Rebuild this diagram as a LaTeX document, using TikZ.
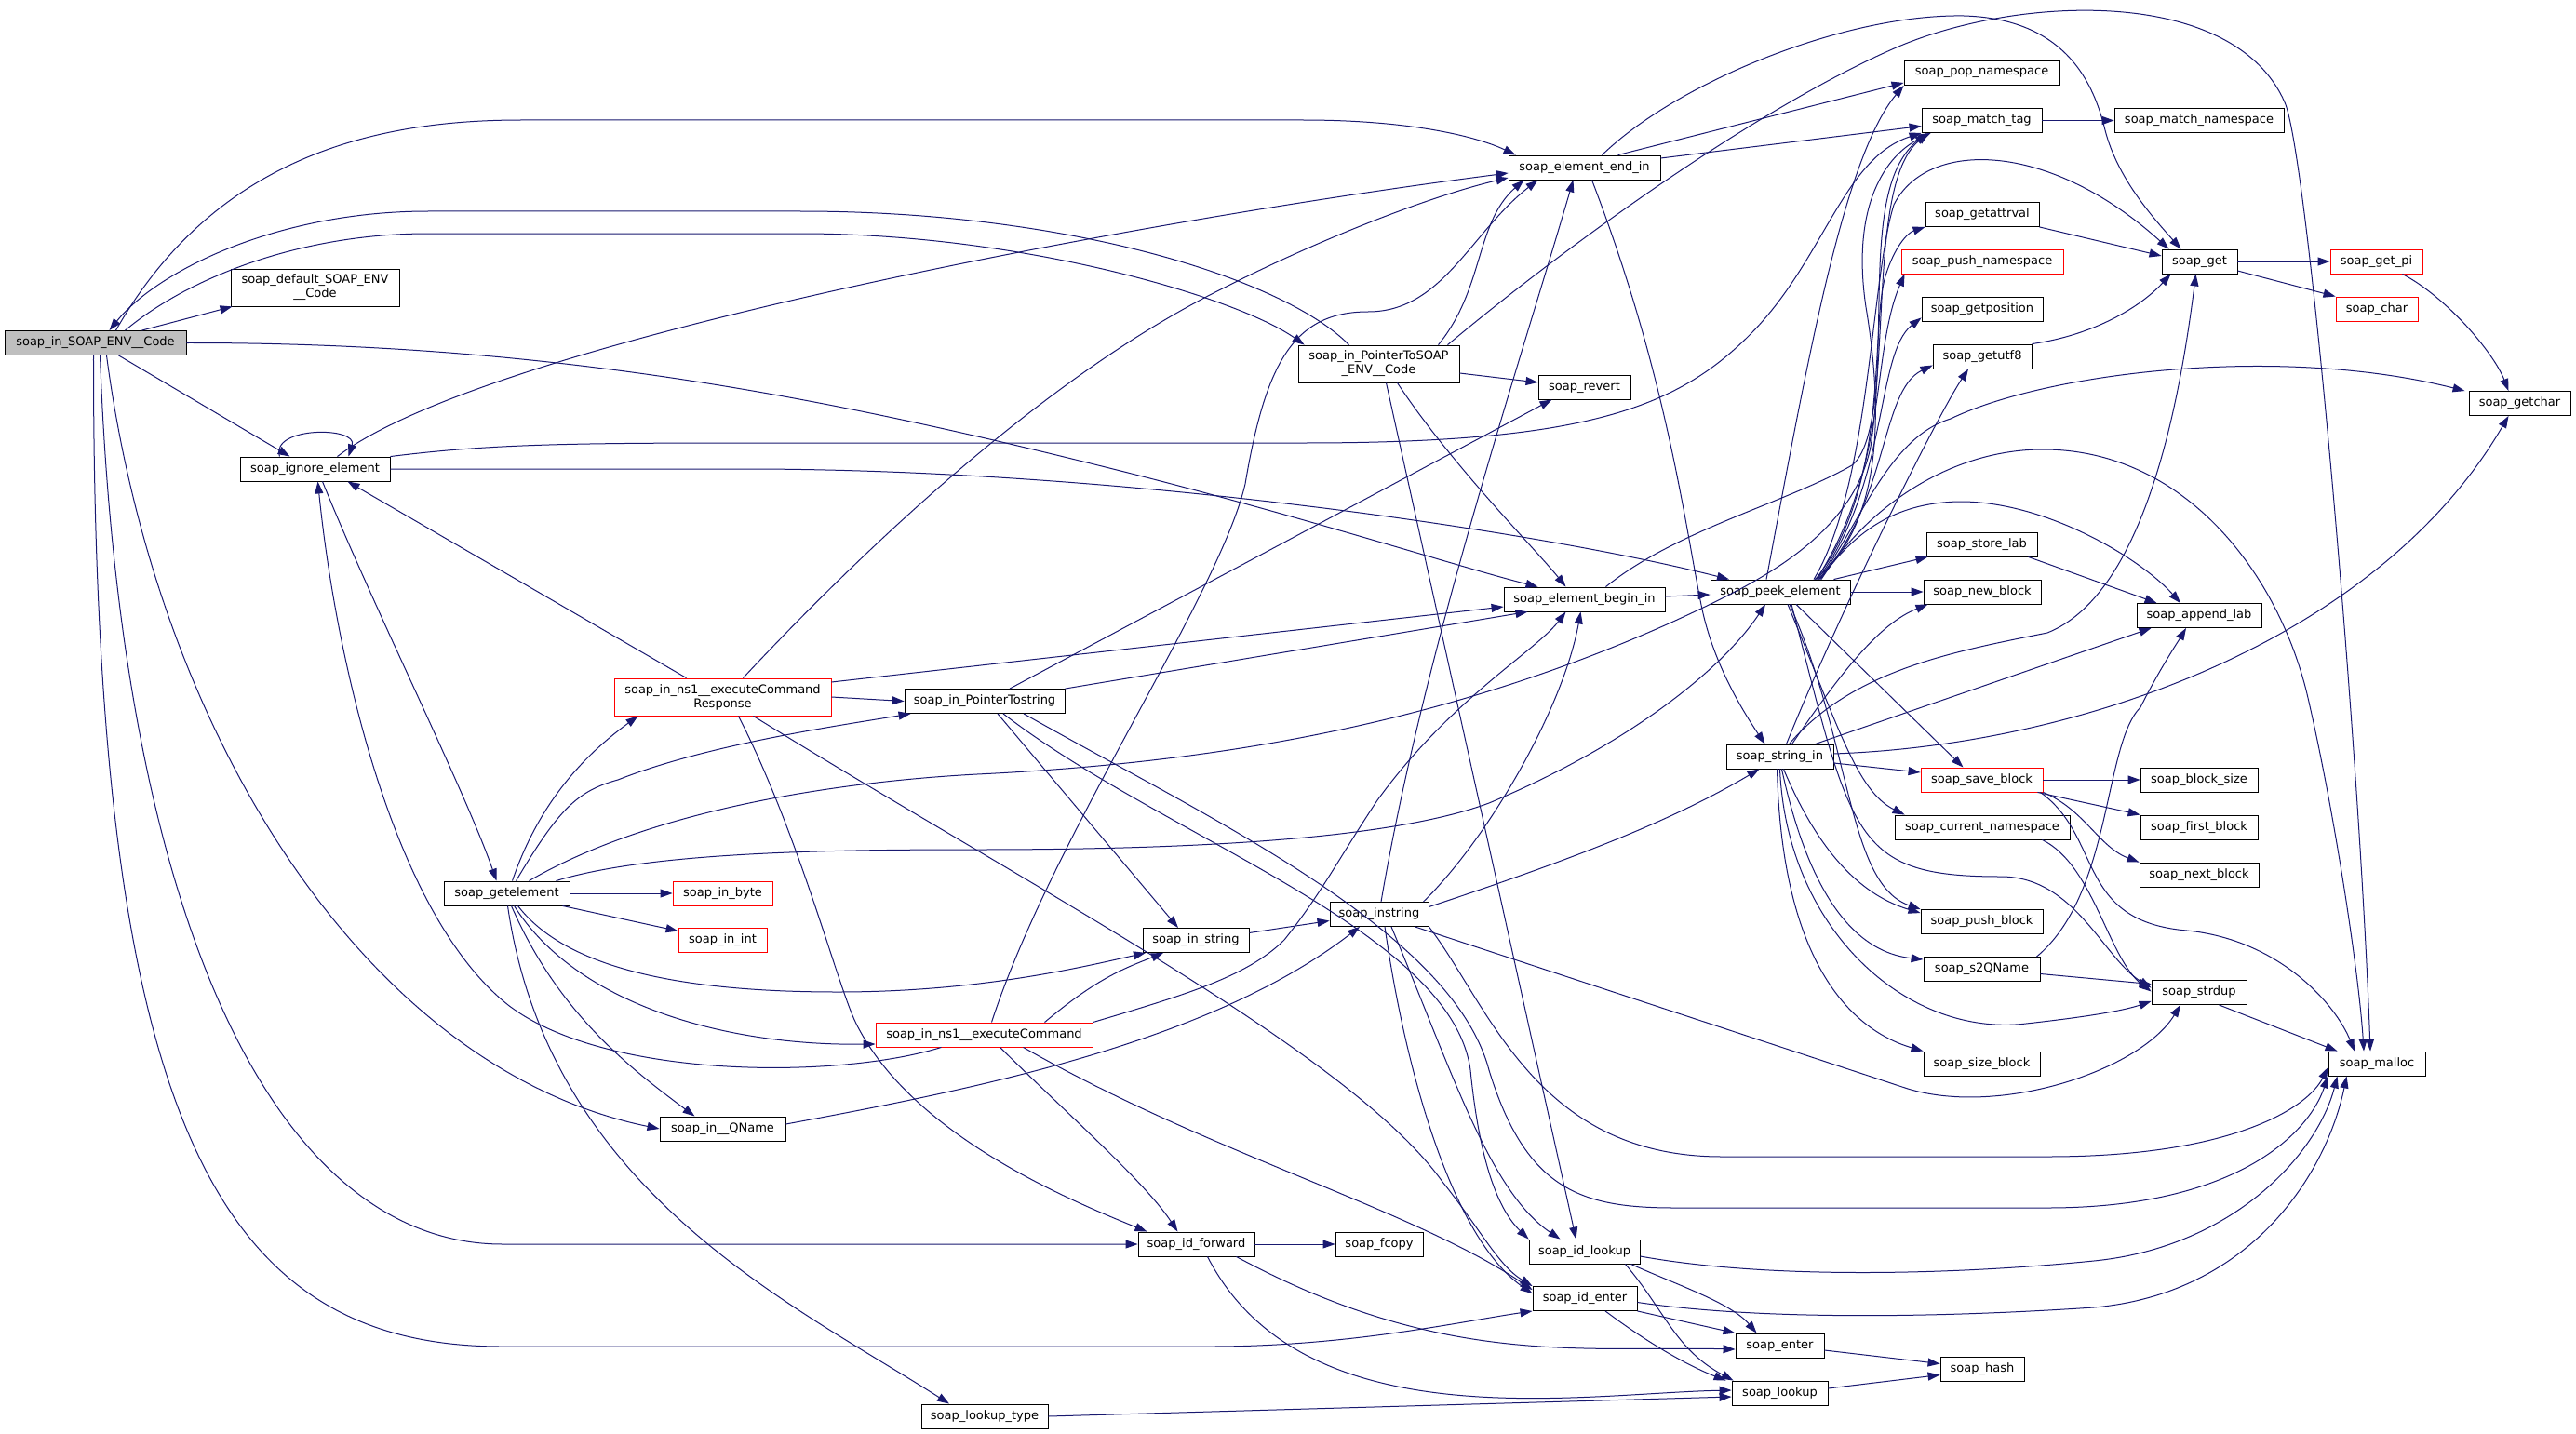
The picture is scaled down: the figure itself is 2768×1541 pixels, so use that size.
\documentclass[tikz,border=0pt]{standalone}
\usepackage{fontspec}
\setmainfont{DejaVu Sans}
\usetikzlibrary{arrows.meta}
\definecolor{EdgeBlue}{RGB}{25,25,112}
\definecolor{RootGrey}{RGB}{191,191,191}
\tikzset{
  fn/.style={draw=black,fill=white,line width=0.9pt,inner sep=0pt,
    minimum height=26pt,align=center,font=\fontsize{13}{15}\selectfont},
  trunc/.style={fn,draw=red},
  rootfn/.style={fn,fill=RootGrey},
  callarrow/.style={-{Triangle[length=13pt,width=9pt]},EdgeBlue,line width=1pt}
}
\begin{document}
\begin{tikzpicture}[x=1pt,y=-1pt]
\fill[white] (0,0) rectangle (2768,1541);
\useasboundingbox (0,0) rectangle (2768,1541);

% functions
\node[rootfn,minimum width=195pt] (envcode) at (102.5,368.5) {soap\_in\_SOAP\_ENV\_\_Code};
\node[fn,minimum width=181pt,minimum height=40pt] (defcode) at (338.5,309) {soap\_default\_SOAP\_ENV\\\_\_Code};
\node[fn,minimum width=161pt] (ignore) at (338.5,504) {soap\_ignore\_element};
\node[fn,minimum width=163pt] (endin) at (1702.5,180) {soap\_element\_end\_in};
\node[fn,minimum width=173pt,minimum height=40pt] (ptrenv) at (1481.5,391) {soap\_in\_PointerToSOAP\\\_ENV\_\_Code};
\node[fn,minimum width=99pt] (revert) at (1702.5,416) {soap\_revert};
\node[fn,minimum width=167pt] (popns) at (2129.5,78.5) {soap\_pop\_namespace};
\node[fn,minimum width=129pt] (matchtag) at (2129.5,129.5) {soap\_match\_tag};
\node[fn,minimum width=182pt] (matchns) at (2363,129.5) {soap\_match\_namespace};
\node[fn,minimum width=122pt] (getattrval) at (2130,230.5) {soap\_getattrval};
\node[trunc,minimum width=174pt] (pushns) at (2130,281) {soap\_push\_namespace};
\node[fn,minimum width=130pt] (getpos) at (2130,332) {soap\_getposition};
\node[fn,minimum width=106pt] (getutf8) at (2130,383) {soap\_getutf8};
\node[fn,minimum width=81pt] (get) at (2363.5,281) {soap\_get};
\node[trunc,minimum width=99pt] (getpi) at (2553.5,281) {soap\_get\_pi};
\node[trunc,minimum width=88pt] (char) at (2554,332) {soap\_char};
\node[fn,minimum width=109pt] (getchar) at (2707.5,433.5) {soap\_getchar};
\node[fn,minimum width=173pt] (beginin) at (1702.5,644) {soap\_element\_begin\_in};
\node[fn,minimum width=150pt] (peek) at (1913,636) {soap\_peek\_element};
\node[fn,minimum width=119pt] (storelab) at (2129.5,585) {soap\_store\_lab};
\node[fn,minimum width=126pt] (newblock) at (2130,636) {soap\_new\_block};
\node[fn,minimum width=134pt] (appendlab) at (2363,661.5) {soap\_append\_lab};
\node[fn,minimum width=115pt] (stringin) at (1912.5,813) {soap\_string\_in};
\node[trunc,minimum width=131pt] (saveblock) at (2129.5,838) {soap\_save\_block};
\node[fn,minimum width=126pt] (blocksize) at (2363,838) {soap\_block\_size};
\node[fn,minimum width=188pt] (curns) at (2130,889) {soap\_current\_namespace};
\node[fn,minimum width=126pt] (firstblock) at (2363,889) {soap\_first\_block};
\node[fn,minimum width=128pt] (nextblock) at (2363,940) {soap\_next\_block};
\node[fn,minimum width=131pt] (pushblock) at (2129.5,990.5) {soap\_push\_block};
\node[fn,minimum width=125pt] (s2qname) at (2129.5,1041.5) {soap\_s2QName};
\node[fn,minimum width=102pt] (strdup) at (2363,1066.5) {soap\_strdup};
\node[fn,minimum width=125pt] (sizeblock) at (2129.5,1143) {soap\_size\_block};
\node[fn,minimum width=104pt] (malloc) at (2554,1143) {soap\_malloc};
\node[trunc,minimum width=233pt,minimum height=40pt] (execresp) at (776.5,749) {soap\_in\_ns1\_\_executeCommand\\Response};
\node[fn,minimum width=172pt] (ptrstr) at (1058,753.5) {soap\_in\_PointerTostring};
\node[fn,minimum width=135pt] (getelem) at (544.5,960) {soap\_getelement};
\node[trunc,minimum width=107pt] (inbyte) at (776.5,960) {soap\_in\_byte};
\node[trunc,minimum width=95pt] (inint) at (776.5,1010.5) {soap\_in\_int};
\node[fn,minimum width=114pt] (instr) at (1285,1010.5) {soap\_in\_string};
\node[fn,minimum width=106pt] (instring) at (1482,982.5) {soap\_instring};
\node[trunc,minimum width=233pt] (exec) at (1057.5,1112) {soap\_in\_ns1\_\_executeCommand};
\node[fn,minimum width=135pt] (qname) at (776.5,1213) {soap\_in\_\_QName};
\node[fn,minimum width=125pt] (idfwd) at (1285.5,1337) {soap\_id\_forward};
\node[fn,minimum width=94pt] (fcopy) at (1482,1337) {soap\_fcopy};
\node[fn,minimum width=119pt] (idlookup) at (1702.5,1345) {soap\_id\_lookup};
\node[fn,minimum width=112pt] (identer) at (1703,1395.5) {soap\_id\_enter};
\node[fn,minimum width=95pt] (enter) at (1912.5,1446) {soap\_enter};
\node[fn,minimum width=90pt] (hash) at (2130,1471.5) {soap\_hash};
\node[fn,minimum width=103pt] (lookup) at (1912.5,1497) {soap\_lookup};
\node[fn,minimum width=136pt] (lookuptype) at (1058,1522) {soap\_lookup\_type};

% soap_in_SOAP_ENV__Code
\draw[callarrow] ([xshift=50pt]envcode.north) -- ([xshift=2pt]defcode.south west);
\draw[callarrow] ([xshift=22pt]envcode.north) .. controls (230,170) and (400,129) .. (560,129) -- (1400,129) .. controls (1520,129) and (1590,148) .. ([xshift=8pt]endin.north west);
\draw[callarrow] ([xshift=32pt]envcode.north) .. controls (200,300) and (320,251) .. (460,251) -- (860,251) .. controls (1100,251) and (1330,320) .. ([xshift=7pt]ptrenv.north west);
\draw[callarrow] ([xshift=25pt]envcode.south) -- ([xshift=-27pt]ignore.north);
\draw[callarrow] (envcode.east) .. controls (600,368) and (900,430) .. (1200,505) .. controls (1400,555) and (1570,610) .. ([xshift=-50pt]beginin.north);
\draw[callarrow] ([xshift=12pt]envcode.south) .. controls (170,800) and (400,1150) .. (qname.west);
\draw[callarrow] ([xshift=5pt]envcode.south) .. controls (130,1000) and (300,1337) .. (540,1337) -- (idfwd.west);
\draw[callarrow] ([xshift=-2pt]envcode.south) .. controls (100,1200) and (230,1447) .. (540,1447) -- (1300,1447) .. controls (1450,1447) and (1570,1420) .. (identer.south west);

% soap_in_PointerToSOAP_ENV__Code
\draw[callarrow] ([xshift=-32pt]ptrenv.north) .. controls (1380,300) and (1150,227) .. (860,227) -- (460,227) .. controls (300,227) and (170,290) .. ([xshift=15pt]envcode.north);
\draw[callarrow] ([xshift=20pt]ptrenv.south) .. controls (1560,500) and (1650,590) .. ([xshift=-20pt]beginin.north);
\draw[callarrow] ([xshift=8pt]ptrenv.south) -- ([xshift=-9pt]idlookup.north);
\draw[callarrow] ([yshift=-10pt]ptrenv.east) -- ([yshift=5pt]revert.west);
\draw[callarrow] ([xshift=64pt]ptrenv.north) .. controls (1595,310) and (1585,240) .. ([xshift=-65pt]endin.south);
\draw[callarrow] ([xshift=74pt]ptrenv.north) .. controls (1700,250) and (1900,110) .. (2040,50) .. controls (2170,-5) and (2400,-15) .. (2455,110) .. controls (2480,167) and (2535,800) .. ([xshift=-7pt]malloc.north);

% soap_ignore_element
\draw[callarrow] ([xshift=-38pt]ignore.north) .. controls (290,458) and (385,458) .. ([xshift=36pt]ignore.north);
\draw[callarrow] ([xshift=24pt]ignore.north) .. controls (520,370) and (1200,240) .. ([yshift=-6pt]endin.west);
\draw[callarrow] (ignore.north east) .. controls (520,478) and (600,476) .. (800,476) -- (1400,476) .. controls (1700,476) and (1800,440) .. (1880,360) .. controls (1960,280) and (1980,170) .. (matchtag.south west);
\draw[callarrow] (ignore.east) -- (800,504) .. controls (1200,504) and (1650,570) .. ([xshift=-55pt]peek.north);
\draw[callarrow] ([xshift=8pt]ignore.south) .. controls (400,650) and (500,850) .. ([xshift=-11pt]getelem.north);

% soap_getelement
\draw[callarrow] (getelem.east) -- (inbyte.west);
\draw[callarrow] ([xshift=-8pt]getelem.south east) -- ([yshift=10pt]inint.west);
\draw[callarrow] ([xshift=6pt]getelem.north) .. controls (580,860) and (630,810) .. ([xshift=26pt]execresp.south west);
\draw[callarrow] ([xshift=10pt]getelem.north) .. controls (600,870) and (620,850) .. (664,838) .. controls (760,800) and (900,780) .. ([xshift=7pt]ptrstr.south west);
\draw[callarrow] ([xshift=24pt]getelem.north) .. controls (700,870) and (900,840) .. (1050,832) .. controls (1300,820) and (1550,780) .. (1800,667) .. controls (1880,630) and (1990,580) .. (2010,480) .. controls (2030,350) and (2000,200) .. ([xshift=6pt]matchtag.south west);
\draw[callarrow] ([xshift=53pt]getelem.north) .. controls (700,915) and (900,913) .. (1050,913) .. controls (1300,913) and (1500,900) .. (1600,863) .. controls (1750,800) and (1850,720) .. ([xshift=-16pt]peek.south);
\draw[callarrow] ([xshift=1pt]getelem.south) .. controls (590,1280) and (850,1400) .. ([xshift=-38pt]lookuptype.north);
\draw[callarrow] ([xshift=5pt]getelem.south) .. controls (600,1090) and (680,1150) .. ([xshift=-30pt]qname.north);
\draw[callarrow] ([xshift=12pt]getelem.south) .. controls (600,1030) and (700,1066) .. (900,1066) .. controls (1050,1066) and (1160,1040) .. ([xshift=-54pt]instr.south);
\draw[callarrow] ([xshift=8pt]getelem.south) .. controls (620,1080) and (780,1124) .. ([yshift=-10pt]exec.west);

% soap_in_ns1__executeCommandResponse
\draw[callarrow] ([xshift=78pt]execresp.north west) -- ([xshift=35pt]ignore.south);
\draw[callarrow] ([xshift=22pt]execresp.north) .. controls (900,620) and (1100,420) .. (1300,317) .. controls (1420,255) and (1540,210) .. ([yshift=-11pt]endin.west);
\draw[callarrow] ([yshift=16pt]execresp.east) -- ([yshift=-8pt]beginin.west);
\draw[callarrow] (execresp.east) -- (ptrstr.west);
\draw[callarrow] ([xshift=17pt]execresp.south) .. controls (860,900) and (900,1060) .. (920,1100) .. controls (980,1220) and (1150,1290) .. ([xshift=-53pt]idfwd.north);
\draw[callarrow] ([xshift=33pt]execresp.south) .. controls (1100,950) and (1450,1130) .. (1550,1270) .. controls (1590,1320) and (1610,1360) .. (identer.north west);

% soap_in_PointerTostring
\draw[callarrow] ([xshift=27pt]ptrstr.north) -- ([xshift=-35pt]revert.south);
\draw[callarrow] (ptrstr.north east) -- ([xshift=-61pt]beginin.south);
\draw[callarrow] ([xshift=14pt]ptrstr.south) -- ([xshift=-19pt]instr.north);
\draw[callarrow] ([xshift=20pt]ptrstr.south) .. controls (1250,900) and (1560,1000) .. (1580,1150) .. controls (1590,1250) and (1610,1300) .. (idlookup.north west);
\draw[callarrow] ([xshift=42pt]ptrstr.south) .. controls (1300,880) and (1560,1000) .. (1600,1150) .. controls (1640,1280) and (1700,1298) .. (1800,1298) -- (2200,1298) .. controls (2400,1298) and (2480,1220) .. (malloc.south west);

% soap_in_ns1__executeCommand
\draw[callarrow] ([xshift=-46pt]exec.south) .. controls (900,1160) and (650,1160) .. (546,1080) .. controls (420,980) and (360,700) .. ([xshift=3pt]ignore.south);
\draw[callarrow] ([xshift=8pt]exec.north) .. controls (1130,900) and (1310,640) .. (1338,520) .. controls (1360,390) and (1390,335) .. (1470,335) .. controls (1550,335) and (1580,250) .. ([xshift=-50pt]endin.south);
\draw[callarrow] ([xshift=65pt]exec.north) .. controls (1180,1050) and (1210,1040) .. ([xshift=-35pt]instr.south);
\draw[callarrow] (exec.north east) .. controls (1270,1070) and (1340,1050) .. (1380,1010) .. controls (1420,960) and (1440,920) .. (1480,860) .. controls (1560,750) and (1650,700) .. ([xshift=-20pt]beginin.south);
\draw[callarrow] ([xshift=17pt]exec.south) .. controls (1150,1200) and (1230,1270) .. ([xshift=-20pt]idfwd.north);
\draw[callarrow] ([xshift=42pt]exec.south) .. controls (1300,1240) and (1520,1300) .. ([yshift=-4pt]identer.north west);

% soap_in_string, soap_in__QName
\draw[callarrow] ([yshift=8pt]instr.east) -- ([yshift=-7pt]instring.west);
\draw[callarrow] ([yshift=5pt]qname.east) .. controls (1050,1170) and (1300,1120) .. ([xshift=-21pt]instring.south);

% soap_instring
\draw[callarrow] ([xshift=2pt]instring.north) .. controls (1530,700) and (1630,400) .. ([xshift=-12pt]endin.south);
\draw[callarrow] ([xshift=-6pt]instring.north east) .. controls (1600,900) and (1680,760) .. ([xshift=-4pt]beginin.south);
\draw[callarrow] ([yshift=8pt]instring.east) .. controls (1700,920) and (1800,880) .. ([xshift=-22pt]stringin.south);
\draw[callarrow] ([xshift=13pt]instring.south) .. controls (1560,1150) and (1600,1280) .. ([xshift=-26pt]idlookup.north);
\draw[callarrow] ([xshift=6pt]instring.south) .. controls (1510,1150) and (1560,1330) .. ([yshift=-8pt]identer.north west);
\draw[callarrow] ([xshift=-15pt]instring.south east) -- (2050,1170) .. controls (2150,1200) and (2300,1150) .. ([xshift=-20pt]strdup.south);
\draw[callarrow] (instring.south east) .. controls (1600,1080) and (1650,1243) .. (1850,1243) -- (2200,1243) .. controls (2400,1243) and (2480,1190) .. ([yshift=-4pt]malloc.west);

% soap_element_end_in
\draw[callarrow] ([xshift=19pt]endin.north) .. controls (1800,90) and (1980,15) .. (2110,17) .. controls (2220,20) and (2250,90) .. (2262,140) .. controls (2275,190) and (2310,230) .. ([xshift=-20pt]get.north);
\draw[callarrow] ([xshift=36pt]endin.north) -- ([yshift=3pt]popns.south west);
\draw[callarrow] ([yshift=10pt]endin.east) -- ([yshift=-6pt]matchtag.west);
\draw[callarrow] ([xshift=8pt]endin.south) .. controls (1790,400) and (1810,560) .. (1828,650) .. controls (1840,710) and (1870,760) .. ([xshift=-16pt]stringin.north);

% soap_element_begin_in
\draw[callarrow] ([yshift=3pt]beginin.east) -- ([yshift=-3pt]peek.west);
\draw[callarrow] ([xshift=23pt]beginin.north) .. controls (1800,570) and (1920,540) .. (1990,500) .. controls (2040,460) and (2000,200) .. ([xshift=8pt]matchtag.south west);

% soap_peek_element
\draw[callarrow] ([xshift=37pt]peek.north) .. controls (2030,560) and (2020,420) .. (2005,330) .. controls (1990,230) and (2020,170) .. ([xshift=10pt]matchtag.south west);
\draw[callarrow] ([xshift=-15pt]peek.north) .. controls (1940,400) and (1980,170) .. (popns.south west);
\draw[callarrow] ([xshift=38pt]peek.north) .. controls (2030,520) and (2010,360) .. (2025,300) .. controls (2035,265) and (2050,250) .. (getattrval.south west);
\draw[callarrow] ([xshift=39pt]peek.north) .. controls (2030,500) and (2010,380) .. ([xshift=4pt]pushns.south west);
\draw[callarrow] ([xshift=40pt]peek.north) .. controls (2030,520) and (2015,380) .. ([yshift=4pt]getpos.south west);
\draw[callarrow] ([xshift=41pt]peek.north) .. controls (2030,540) and (2020,420) .. ([yshift=4pt]getutf8.south west);
\draw[callarrow] ([xshift=36pt]peek.north) .. controls (2010,520) and (2010,300) .. (2035,220) .. controls (2070,150) and (2200,150) .. ([xshift=8pt]get.north west);
\draw[callarrow] ([xshift=42pt]peek.north) .. controls (2000,560) and (2030,470) .. (2096,450) .. controls (2200,400) and (2450,370) .. ([xshift=-4pt]getchar.north west);
\draw[callarrow] ([xshift=43pt]peek.north) .. controls (2000,560) and (2050,539) .. (2109,539) .. controls (2200,540) and (2300,600) .. ([xshift=-20pt]appendlab.north);
\draw[callarrow] ([xshift=44pt]peek.north) .. controls (2010,540) and (2100,483) .. (2195,483) .. controls (2350,483) and (2450,620) .. (2480,750) .. controls (2510,880) and (2535,1050) .. ([xshift=-14pt]malloc.north);
\draw[callarrow] ([xshift=-18pt]peek.north east) -- ([xshift=2pt]storelab.south west);
\draw[callarrow] (peek.east) -- (newblock.west);
\draw[callarrow] ([xshift=17pt]peek.south) -- ([xshift=-20pt]saveblock.north);
\draw[callarrow] ([xshift=8pt]peek.south) .. controls (1975,780) and (1995,850) .. ([xshift=11pt]curns.north west);
\draw[callarrow] ([xshift=10pt]peek.south) .. controls (1990,800) and (1985,950) .. (pushblock.north west);
\draw[callarrow] ([xshift=12pt]peek.south) .. controls (1990,900) and (1990,942) .. (2150,942) .. controls (2230,942) and (2260,1030) .. ([yshift=5pt]strdup.west);

% soap_string_in
\draw[callarrow] ([xshift=7pt]stringin.north) .. controls (1980,650) and (2080,450) .. ([xshift=-15pt]getutf8.south);
\draw[callarrow] ([xshift=10pt]stringin.north) .. controls (1990,720) and (2100,700) .. (2200,680) .. controls (2300,640) and (2340,450) .. ([xshift=-4pt]get.south);
\draw[callarrow] ([xshift=13pt]stringin.north) .. controls (1980,720) and (2020,670) .. ([xshift=5pt]newblock.south west);
\draw[callarrow] ([xshift=-20pt]stringin.north east) -- ([xshift=16pt]appendlab.south west);
\draw[callarrow] ([yshift=3pt]stringin.east) .. controls (2250,800) and (2560,680) .. ([xshift=-12pt]getchar.south);
\draw[callarrow] ([yshift=-7pt]stringin.east) -- ([yshift=8pt]saveblock.west);
\draw[callarrow] ([xshift=4pt]stringin.south) .. controls (1960,930) and (2010,965) .. ([yshift=-4pt]pushblock.north west);
\draw[callarrow] ([xshift=2pt]stringin.south) .. controls (1950,990) and (2010,1025) .. ([yshift=-3pt]s2qname.north west);
\draw[callarrow] (stringin.south) .. controls (1920,1000) and (2050,1115) .. (2177,1100) .. controls (2250,1092) and (2285,1085) .. ([yshift=4pt]strdup.south west);
\draw[callarrow] ([xshift=-3pt]stringin.south) .. controls (1915,1050) and (2000,1110) .. (sizeblock.north west);

% soap_get and helpers
\draw[callarrow] (get.east) -- (getpi.west);
\draw[callarrow] ([yshift=-10pt]get.east) -- (char.north west);
\draw[callarrow] ([xshift=-22pt]getpi.south east) .. controls (2630,320) and (2680,380) .. ([xshift=-12pt]getchar.north);
\draw[callarrow] (getattrval.south east) -- ([yshift=6pt]get.west);
\draw[callarrow] (getutf8.north east) .. controls (2250,360) and (2300,330) .. ([xshift=10pt]get.south west);
\draw[callarrow] (matchtag.east) -- (matchns.west);
\draw[callarrow] ([xshift=-10pt]storelab.south east) -- ([xshift=22pt]appendlab.north west);

% soap_save_block
\draw[callarrow] (saveblock.east) -- (blocksize.west);
\draw[callarrow] ([xshift=-6pt]saveblock.south east) -- (firstblock.north west);
\draw[callarrow] (saveblock.south east) .. controls (2240,870) and (2255,910) .. (nextblock.north west);
\draw[callarrow] ([xshift=-3pt]saveblock.south east) .. controls (2260,900) and (2230,990) .. (2350,1000) .. controls (2450,1010) and (2510,1080) .. ([xshift=-24pt]malloc.north);

% soap_current_namespace, soap_s2QName, soap_strdup
\draw[callarrow] ([xshift=-30pt]curns.south east) .. controls (2250,930) and (2265,1030) .. ([yshift=1pt]strdup.west);
\draw[callarrow] ([yshift=-5pt]s2qname.east) -- ([yshift=9pt]strdup.west);
\draw[callarrow] ([xshift=-4pt]s2qname.north east) .. controls (2270,960) and (2260,800) .. (2300,760) .. controls (2320,720) and (2340,690) .. ([xshift=-14pt]appendlab.south);
\draw[callarrow] ([xshift=-30pt]strdup.south east) -- ([xshift=10pt]malloc.north west);

% soap_id_forward, soap_id_lookup, soap_id_enter
\draw[callarrow] (idfwd.east) -- (fcopy.west);
\draw[callarrow] ([xshift=-20pt]idfwd.south east) .. controls (1550,1470) and (1700,1446) .. ([yshift=-4pt]enter.west);
\draw[callarrow] ([xshift=12pt]idfwd.south) .. controls (1400,1550) and (1700,1497) .. ([yshift=3pt]lookup.west);
\draw[callarrow] ([xshift=-10pt]idlookup.south east) .. controls (1800,1380) and (1860,1400) .. ([xshift=-25pt]enter.north);
\draw[callarrow] ([xshift=-16pt]idlookup.south east) .. controls (1790,1410) and (1800,1450) .. ([xshift=2pt]lookup.north west);
\draw[callarrow] ([yshift=-5pt]idlookup.east) .. controls (1900,1375) and (2100,1370) .. (2250,1355) .. controls (2400,1340) and (2490,1240) .. ([xshift=10pt]malloc.south west);
\draw[callarrow] (identer.south east) -- (enter.north west);
\draw[callarrow] ([xshift=22pt]identer.south) .. controls (1780,1450) and (1820,1470) .. ([xshift=-6pt]lookup.north west);
\draw[callarrow] ([yshift=-4pt]identer.east) .. controls (1900,1420) and (2100,1415) .. (2250,1405) .. controls (2420,1390) and (2500,1260) .. ([xshift=20pt]malloc.south west);

% soap_enter, soap_lookup, soap_lookup_type
\draw[callarrow] ([yshift=-5pt]enter.east) -- ([yshift=6pt]hash.west);
\draw[callarrow] ([yshift=5pt]lookup.east) -- ([yshift=-6pt]hash.west);
\draw[callarrow] (lookuptype.east) -- ([yshift=-4pt]lookup.west);
\end{tikzpicture}
\end{document}
